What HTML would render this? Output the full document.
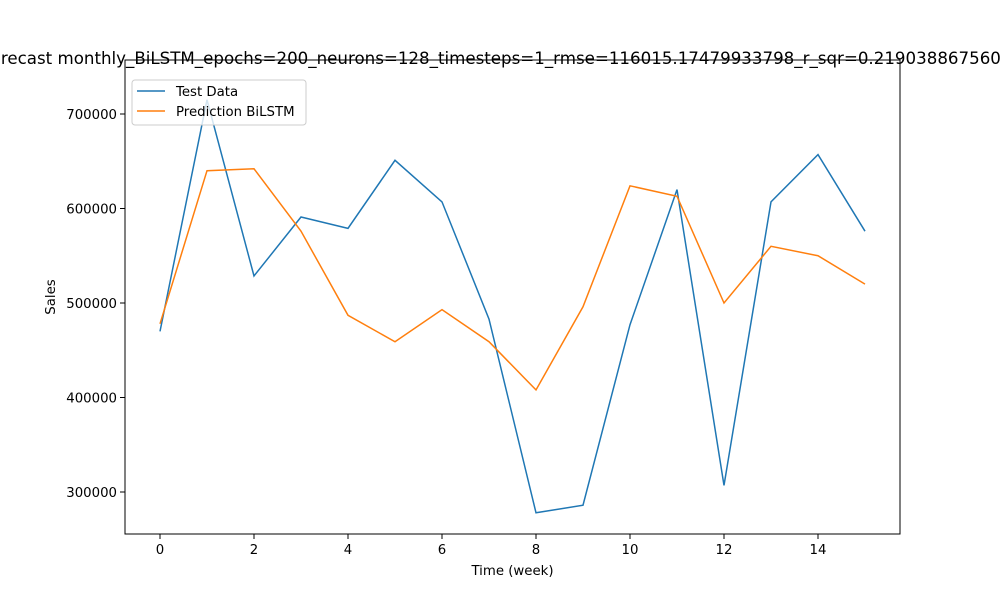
<!DOCTYPE html>
<html><head><meta charset="utf-8"><style>
body{margin:0;background:#fff}
svg{font-family:"DejaVu Sans","Liberation Sans",sans-serif}
</style></head><body>
<svg width="1000" height="600" viewBox="0 0 1000 600" id="chart">
<rect width="1000" height="600" fill="#fff"/>
<text x="512.5" y="64" text-anchor="middle" font-size="16.67">Forecast monthly_BiLSTM_epochs=200_neurons=128_timesteps=1_rmse=116015.17479933798_r_sqr=0.2190388675602311</text>
<g id="plot"></g>
</svg>
<script>
const weeks=[0,1,2,3,4,5,6,7,8,9,10,11,12,13,14,15];
const testData=[470000,715000,528600,591000,579000,651000,607000,483000,278000,286000,477000,620000,307000,607000,657000,576000];
const prediction=[478000,640000,642000,576000,487000,459000,493000,459000,408000,496000,624000,613000,500000,560000,550000,520000];
const xTicks=[0,2,4,6,8,10,12,14];
const yTicks=[300000,400000,500000,600000,700000];
const L=125,R=900,T=60,B=534;
const x=v=>160+(v-0)*47;
const y=v=>114+(700000-v)*0.000945;
const ns="http://www.w3.org/2000/svg";
const g=document.getElementById('plot');
function mk(t,a,p){const e=document.createElementNS(ns,t);for(const k in a)e.setAttribute(k,a[k]);(p||g).appendChild(e);return e;}
const frame=mk('rect',{x:L,y:T,width:R-L,height:B-T,fill:'none',stroke:'#000','stroke-width':1});


xTicks.forEach(t=>{
 const l=mk('line',{x1:x(t),x2:x(t),y1:B,y2:B+5,stroke:'#000'});
 
 
 const tx=mk('text',{x:x(t),y:B+20,'text-anchor':'middle','font-size':13.3});
 tx.textContent=t;
 
 
});
yTicks.forEach(t=>{
 const l=mk('line',{x1:L-5,x2:L,y1:y(t),y2:y(t),stroke:'#000'});
 
 
 const tx=mk('text',{x:L-8,y:y(t)+5,'text-anchor':'end','font-size':13.3});
 tx.textContent=t;
 
 
});
const xt=mk('text',{x:512.5,y:575,'text-anchor':'middle','font-size':13.3});
xt.textContent='Time (week)';


const yt=mk('text',{x:55,y:297,'text-anchor':'middle','font-size':13.3,transform:'rotate(-90 55 297)'});
yt.textContent='Sales';


function line(vals,c,name){
 const p=mk('polyline',{points:vals.map((v,i)=>x(weeks[i])+','+y(v)).join(' '),fill:'none',stroke:c,'stroke-width':1.5});
 
 
}
line(testData,'#1f77b4','test-data-line');
line(prediction,'#ff7f0e','prediction-line');
const lg=mk('g',{});


mk('rect',{x:132,y:80,width:174,height:45,rx:3,fill:'#fff',stroke:'#ccc','fill-opacity':0.8},lg);
[['Test Data','#1f77b4'],['Prediction BiLSTM','#ff7f0e']].forEach((d,i)=>{
 const yy=91+i*20;
 const e=mk('g',{},lg);
 
 
 mk('line',{x1:137,x2:165,y1:yy,y2:yy,stroke:d[1],'stroke-width':1.5},e);
 const t=mk('text',{x:176,y:yy+5,'font-size':13.3},e);
 t.textContent=d[0];
});
</script>
</body></html>
